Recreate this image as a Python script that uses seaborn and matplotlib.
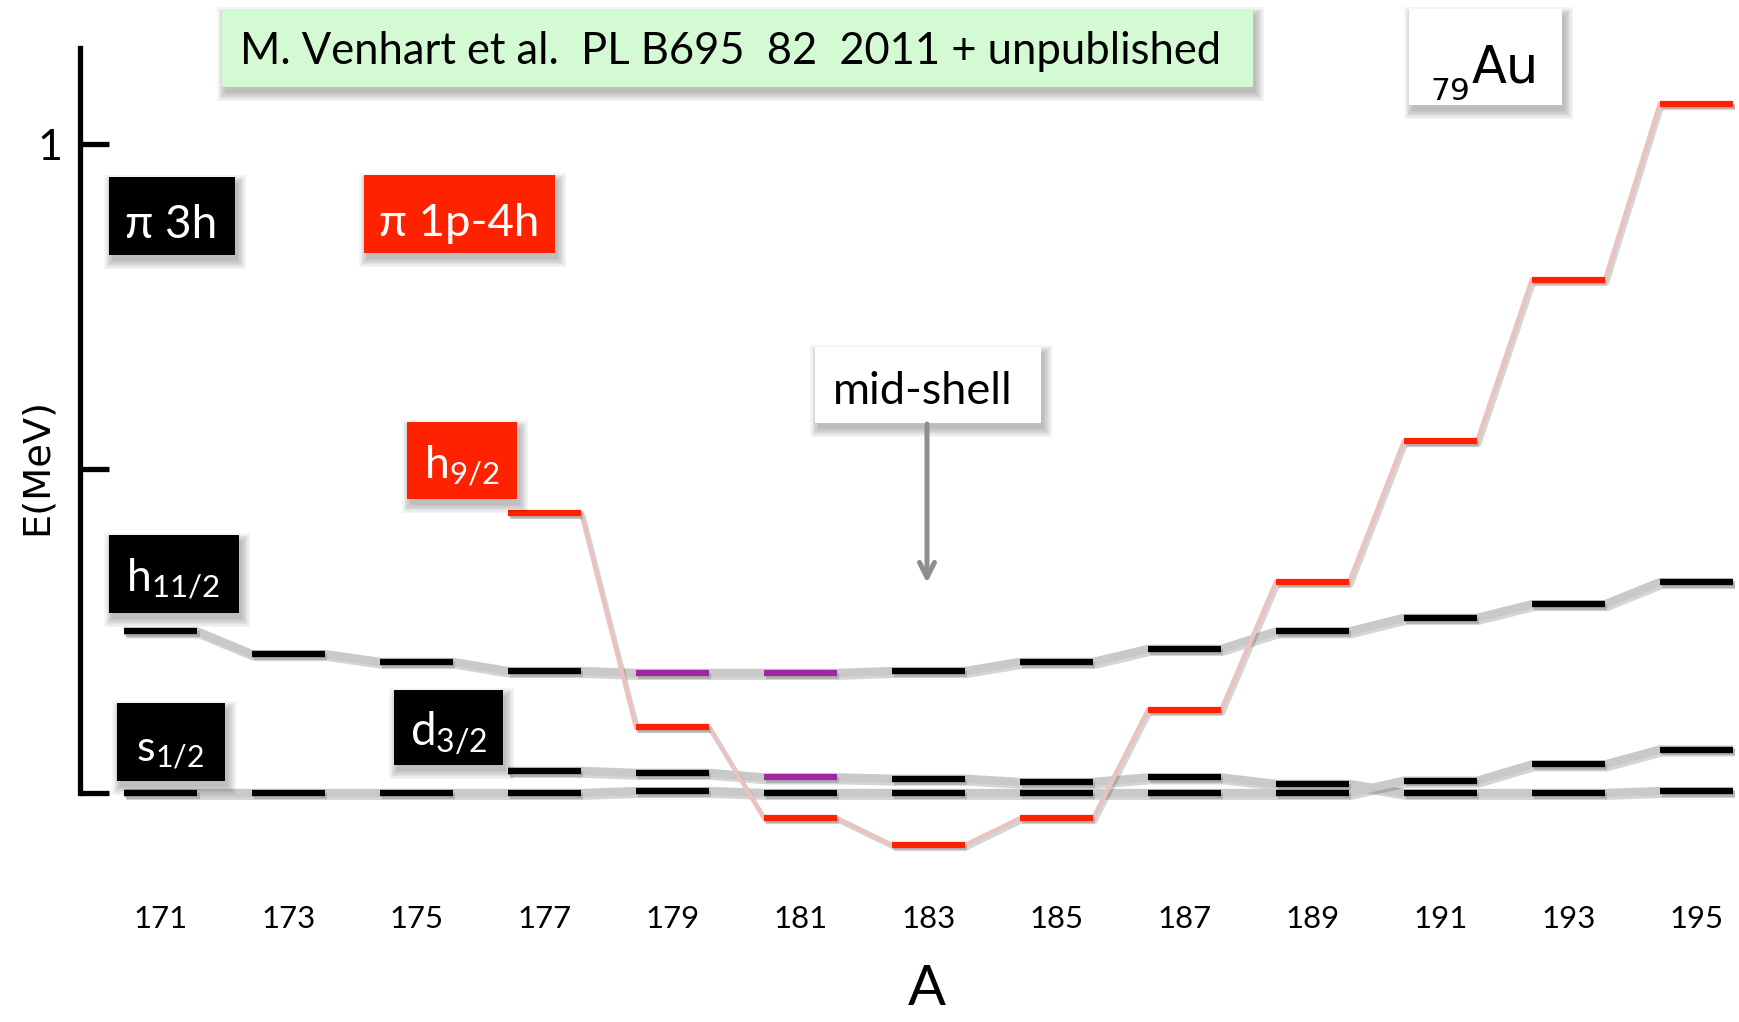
import matplotlib
matplotlib.use("Agg")
import matplotlib.pyplot as plt
import matplotlib.patheffects as pe
import matplotlib.transforms as mtransforms
from matplotlib.patches import Rectangle
import pandas as pd
import seaborn as sns

# ---------------------------------------------------------------- data
# odd-A gold isotopes
mass_numbers = [171, 173, 175, 177, 179, 181, 183, 185, 187, 189, 191, 193, 195]

# level energies (MeV); None = level not known for that isotope
e_h11 = [0.249, 0.214, 0.202, 0.188, 0.185, 0.185, 0.188, 0.202, 0.222, 0.249, 0.270, 0.291, 0.325]
e_s12 = [0.0, 0.0, 0.0, 0.0, 0.003, 0.0, 0.0, 0.0, 0.0, 0.0, 0.019, 0.044, 0.067]
e_d32 = [None, None, None, 0.034, 0.031, 0.024, 0.022, 0.017, 0.024, 0.014, 0.0, 0.0, 0.003]
e_h92 = [None, None, None, 0.431, 0.101, -0.039, -0.080, -0.039, 0.128, 0.325, 0.542, 0.791, 1.062]

# levels drawn in purple
purple_h11 = [179, 181]
purple_d32 = [181]

y_ticks = [0, 0.5, 1]
y_tick_labels = ["", "", "1"]

# ---------------------------------------------------------------- style
BLACK = "#000000"
RED = "#ff2200"
PURPLE = "#a126a1"
GRAY = "#c9c9c9"
PINK = "#e9c2c2"
GREEN_BOX = "#d4fad4"
ARROW = "#8e8e8e"

sns.set_theme(style="white")
plt.rcParams["font.family"] = ["Lato", "DejaVu Sans"]
plt.rcParams["mathtext.default"] = "regular"

W, H = 1739, 1022
fig = plt.figure(figsize=(W / 100, H / 100), dpi=100)
ax = fig.add_axes([0, 0, 1, 1])

# data <-> pixel geometry of the level diagram
A_LEFT, PX_PER_A = 168.486, 63.98
E_ZERO_PX, PX_PER_MEV = 793.0, 648.8
HALF = 0.572  # half length of a level bar, in units of A


def a_of(px):
    return A_LEFT + px / PX_PER_A


def e_of(py):
    return (E_ZERO_PX - py) / PX_PER_MEV


ax.set_xlim(a_of(0), a_of(W))
ax.set_ylim(e_of(H), e_of(0))
ax.set_facecolor("white")

# top-left-origin pixel transform for the annotation boxes
px = mtransforms.Affine2D().scale(1, -1).translate(0, H)

# ---------------------------------------------------------------- axis
for side in ("top", "right", "bottom"):
    ax.spines[side].set_visible(False)
left = ax.spines["left"]
left.set_position(("data", a_of(80)))
left.set_bounds(0, e_of(48))
left.set_linewidth(3.8)
left.set_color(BLACK)
ax.set_xticks([])
ax.set_yticks(y_ticks)
ax.set_yticklabels(y_tick_labels)
ax.tick_params(axis="y", direction="in", length=21, width=3.8, pad=13,
               labelsize=31, colors=BLACK, left=True)
ax.grid(False)

# ---------------------------------------------------------------- connectors
def level_path(band, energies):
    rows = []
    for a, e in zip(mass_numbers, energies):
        if e is None:
            continue
        rows.append((band, a - HALF, e))
        rows.append((band, a + HALF, e))
    return rows


gray_df = pd.DataFrame(level_path("h11/2", e_h11) + level_path("s1/2", e_s12)
                       + level_path("d3/2", e_d32), columns=["band", "A", "E"])
red_df = pd.DataFrame(level_path("h9/2", e_h92), columns=["band", "A", "E"])

shadow = [pe.SimpleLineShadow(offset=(1.5, -2.0), shadow_color="k", alpha=0.18), pe.Normal()]

n0 = len(ax.lines)
sns.lineplot(data=gray_df, x="A", y="E", units="band", estimator=None, sort=False,
             color=GRAY, lw=6.0, ax=ax, zorder=2, solid_joinstyle="miter",
             solid_capstyle="butt")
sns.lineplot(data=red_df, x="A", y="E", units="band", estimator=None, sort=False,
             color=PINK, lw=3.2, ax=ax, zorder=2.5, solid_joinstyle="miter",
             solid_capstyle="butt")
for ln in ax.lines[n0:]:
    ln.set_path_effects(shadow)
ax.set_xlabel("")
ax.set_ylabel("")

# ---------------------------------------------------------------- level bars
def draw_bars(energies, base_color, purple=()):
    for a, e in zip(mass_numbers, energies):
        if e is None:
            continue
        c = PURPLE if a in purple else base_color
        ax.hlines(e, a - HALF, a + HALF, colors=c, lw=4.5, zorder=4,
                  capstyle="butt", path_effects=shadow)


draw_bars(e_s12, BLACK)
draw_bars(e_d32, BLACK, purple_d32)
draw_bars(e_h11, BLACK, purple_h11)
draw_bars(e_h92, RED)

# ---------------------------------------------------------------- labels
renderer = fig.canvas.get_renderer()


def fit(t, target, vertical=False):
    bb = t.get_window_extent(renderer)
    size = bb.height if vertical else bb.width
    t.set_fontsize(t.get_fontsize() * target / size)
    return t


for a in mass_numbers:
    t = ax.text(a, e_of(919), str(a), ha="center", va="center", fontsize=21,
                color=BLACK, zorder=5)
    fit(t, 54)

fit(ax.text(927, 1005, "A", transform=px, ha="center", va="baseline", fontsize=40,
            color=BLACK), 38)
fit(ax.text(37, 466, "E(MeV)", transform=px, ha="center", va="center", rotation=90,
            fontsize=25, family="DejaVu Sans", color=BLACK), 137, vertical=True)


def box(x0, y0, x1, y1, face, z=6):
    for i in range(7):
        g = 1.3 * i
        ax.add_patch(Rectangle((x0 + 3 - g, y0 + 6 - g), (x1 - x0) + 2 * g,
                               (y1 - y0) + 2 * g, transform=px, facecolor="black",
                               edgecolor="none", alpha=0.04, zorder=z - 0.5))
    ax.add_patch(Rectangle((x0, y0), x1 - x0, y1 - y0, transform=px,
                           facecolor=face, edgecolor="none", zorder=z))


def box_text(x, y, s, width, color="white", family=None, ha="center"):
    kw = dict(transform=px, ha=ha, va="baseline", fontsize=28, color=color, zorder=7)
    if family:
        kw["family"] = family
    return fit(ax.text(x, y, s, **kw), width)


# reference banner
box(222, 9, 1253, 87, GREEN_BOX)
box_text(240, 64, "M. Venhart et al.  PL B695  82  2011 + unpublished", 982,
         color=BLACK, ha="left")

# element symbol
box(1409, 9, 1562, 105, "white")
box_text(1430, 100, "79", 40, color=BLACK, family="DejaVu Sans", ha="left")
box_text(1472, 82, "Au", 67, color=BLACK, family="DejaVu Sans", ha="left")

# configuration labels
box(109, 177, 235, 255, BLACK)
box_text(171, 238, "π 3h", 92, family=["Lato", "DejaVu Sans"])
box(364, 175, 555, 253, RED)
box_text(459, 236, "π 1p-4h", 160, family=["Lato", "DejaVu Sans"])

# orbital labels
box(407, 422, 517, 499, RED)
box_text(462, 479, r"$\mathregular{h_{9/2}}$", 76)
box(109, 535, 239, 613, BLACK)
box_text(173, 592, r"$\mathregular{h_{11/2}}$", 94)
box(117, 703, 225, 781, BLACK)
box_text(170, 761, r"$\mathregular{s_{1/2}}$", 68)
box(394, 690, 503, 765, BLACK)
box_text(449, 746, r"$\mathregular{d_{3/2}}$", 78)

# mid-shell marker
box(815, 347, 1041, 423, "white")
box_text(923, 404, "mid-shell", 180, color=BLACK)
ax.annotate("", xy=(927, 583), xytext=(927, 424), xycoords=px, textcoords=px,
            arrowprops=dict(arrowstyle="->,head_length=0.9,head_width=0.45",
                            color=ARROW, lw=3.6, shrinkA=0, shrinkB=0),
            zorder=6)

fig.savefig("out.png", dpi=100, facecolor="white")
